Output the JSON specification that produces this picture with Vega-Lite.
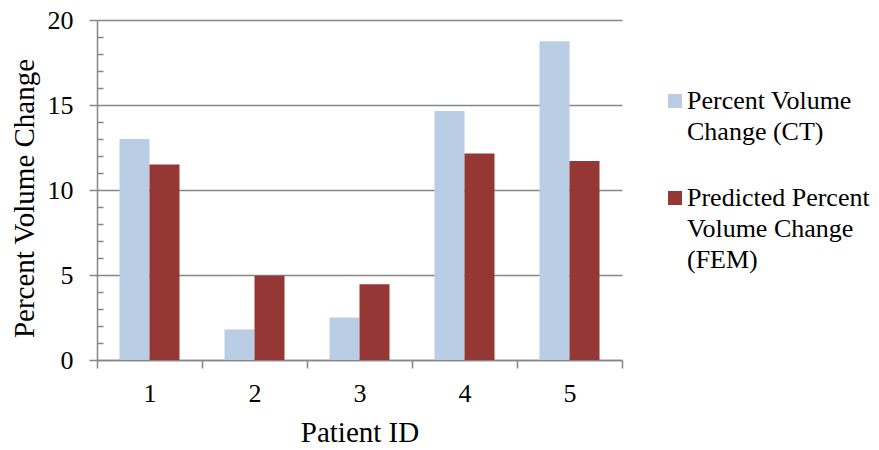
{
  "$schema": "https://vega.github.io/schema/vega-lite/v6.json",
  "width": 525,
  "height": 340,
  "autosize": {"type": "none"},
  "padding": {"left": 97, "top": 20, "right": 257, "bottom": 90},
  "background": "white",
  "config": {
    "view": {"stroke": null}
  },
  "data": {"values": [
    {"patient": "1", "series": "CT", "value": 13.0},
    {"patient": "1", "series": "FEM", "value": 11.5},
    {"patient": "2", "series": "CT", "value": 1.8},
    {"patient": "2", "series": "FEM", "value": 4.95},
    {"patient": "3", "series": "CT", "value": 2.5},
    {"patient": "3", "series": "FEM", "value": 4.45},
    {"patient": "4", "series": "CT", "value": 14.65},
    {"patient": "4", "series": "FEM", "value": 12.15},
    {"patient": "5", "series": "CT", "value": 18.75},
    {"patient": "5", "series": "FEM", "value": 11.7}
  ]},
  "encoding": {
    "x": {"field": "patient", "type": "nominal", "title": "Patient ID",
      "scale": {"paddingInner": 0, "paddingOuter": 0},
      "axis": {"labelAngle": 0, "tickBand": "extent", "tickSize": 8, "labelPadding": 12, "titlePadding": 12, "grid": false,
        "labelFont": "Liberation Serif", "titleFont": "Liberation Serif", "labelFontSize": 26, "titleFontSize": 29, "titleFontWeight": "normal", "labelColor": "black", "titleColor": "black",
        "domainColor": "#868686", "tickColor": "#868686", "domainWidth": 1.5, "tickWidth": 1.5}},
    "xOffset": {"field": "series", "type": "nominal", "scale": {"paddingInner": 0, "paddingOuter": 0.75}}
  },
  "layer": [
    {
      "mark": {"type": "bar"},
      "encoding": {
        "y": {"field": "value", "type": "quantitative", "title": "Percent Volume Change",
          "scale": {"domain": [0, 20], "nice": false},
          "axis": {"values": [0, 5, 10, 15, 20], "tickSize": 8, "labelPadding": 16, "titlePadding": 8, "titleY": 178, "grid": true, "domain": true,
            "labelFont": "Liberation Serif", "titleFont": "Liberation Serif", "labelFontSize": 26, "titleFontSize": 29, "titleFontWeight": "normal", "labelColor": "black", "titleColor": "black",
            "domainColor": "#868686", "tickColor": "#868686", "gridColor": "#868686", "domainWidth": 1.5, "tickWidth": 1.5, "gridWidth": 1.5}},
        "color": {"field": "series", "type": "nominal",
          "scale": {"domain": ["CT", "FEM"], "range": ["#B9CDE5", "#953735"]},
          "legend": {"title": null, "orient": "none", "legendX": 565, "legendY": 68, "symbolType": "square", "symbolSize": 196, "symbolStrokeWidth": 0, "rowPadding": 40, "labelOffset": -1,
            "labelFont": "Liberation Serif", "labelFontSize": 26, "labelColor": "black", "labelLimit": 400,
            "labelExpr": "datum.value == 'CT' ? ['Percent Volume', 'Change (CT)'] : ['Predicted Percent', 'Volume Change', '(FEM)']",
            "encode": {"labels": {"update": {"baseline": {"value": "alphabetic"}, "dy": {"value": 8}, "lineHeight": {"value": 31}}}}}}
      }
    },
    {
      "mark": {"type": "bar", "opacity": 0},
      "encoding": {
        "y": {"field": "value", "type": "quantitative",
          "scale": {"domain": [0, 20], "nice": false},
          "axis": {"orient": "left", "values": [1,2,3,4,6,7,8,9,11,12,13,14,16,17,18,19], "tickSize": -6, "labels": false, "title": null, "grid": false, "domain": false, "tickColor": "#868686", "tickWidth": 1.5}}
      }
    }
  ],
  "resolve": {"axis": {"y": "independent"}}
}
